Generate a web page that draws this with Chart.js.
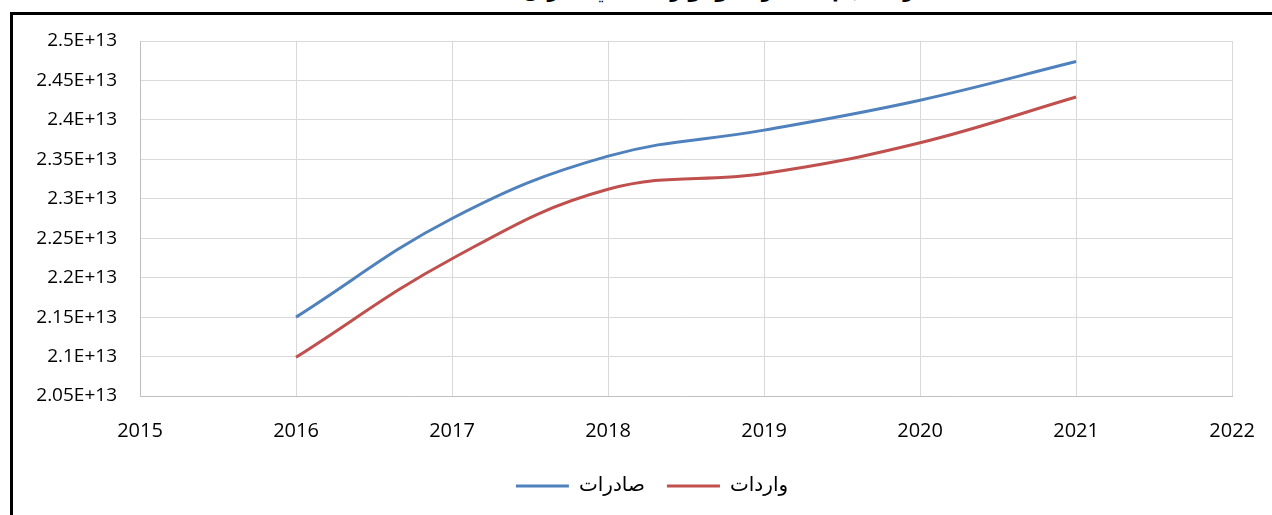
<!DOCTYPE html>
<html>
<head>
<meta charset="utf-8">
<script src="https://cdn.jsdelivr.net/npm/chart.js@4"></script>
<style>
  html, body { margin: 0; padding: 0; background: #fff; overflow: hidden; }
  #frame { position: absolute; left: 10px; top: 12px; width: 1400px; height: 600px; border: 3px solid #000; }
  #title { position: absolute; left: 0; width: 1272px; top: -22px; text-align: center;
           font: bold 20px "DejaVu Sans"; direction: rtl; color: #000; }
  #wrap { position: absolute; left: 0; top: 0; width: 1278px; height: 515px; }
</style>
</head>
<body>
<div id="frame"></div>
<div id="title">مقارنة حجم الصادرات والواردات في العراق للمدة 2016 - 2021</div>
<div id="wrap"><canvas id="grafica"></canvas></div>
<script>
// valores
var years = [2016, 2017, 2018, 2019, 2020, 2021];
var exportsVals = [2.150e13, 2.275e13, 2.354e13, 2.387e13, 2.425e13, 2.474e13];
var importsVals = [2.099e13, 2.224e13, 2.312e13, 2.332e13, 2.371e13, 2.429e13];
var yTicks = { min: 2.05e13, max: 2.5e13, step: 0.05e13 };
var xTicks = { min: 2015, max: 2022, step: 1 };

function pts(vals) {
    return years.map(function (y, i) { return { x: y, y: vals[i] }; });
}

var data = {
    datasets: [
        {
            label: 'صادرات',
            data: pts(exportsVals),
            borderColor: '#4F81BD',
            backgroundColor: '#4F81BD',
            borderWidth: 3,
            pointRadius: 0,
            tension: 0.4,
        },
        {
            label: 'واردات',
            data: pts(importsVals),
            borderColor: '#C0504D',
            backgroundColor: '#C0504D',
            borderWidth: 3,
            pointRadius: 0,
            tension: 0.4,
        },
    ],
};

var config = {
    type: 'line',
    data: data,
    options: {
        responsive: false,
        animation: false,
        layout: { padding: { top: 41, right: 0, left: 26, bottom: 9 } },
        plugins: {
            legend: {
                position: 'bottom',
                labels: {
                    usePointStyle: true,
                    pointStyle: 'line',
                    pointStyleWidth: 53,
                    boxWidth: 53,
                    padding: 22,
                    color: '#000',
                    font: { family: 'DejaVu Sans', size: 20 },
                },
            },
            tooltip: { enabled: false },
        },
        scales: {
            x: {
                type: 'linear',
                min: xTicks.min,
                max: xTicks.max,
                afterFit: function (scale) { scale.height = 58; },
                grid: { color: '#d9d9d9', drawTicks: false },
                border: { color: '#bfbfbf' },
                ticks: {
                    stepSize: xTicks.step,
                    padding: 23,
                    color: '#000',
                    font: { family: 'Open Sans', size: 20 },
                    callback: function (value) { return String(value); },
                },
            },
            y: {
                min: yTicks.min,
                max: yTicks.max,
                afterFit: function (scale) { scale.width = 114; },
                grid: { color: '#d9d9d9', drawTicks: false },
                border: { color: '#bfbfbf' },
                ticks: {
                    stepSize: yTicks.step,
                    padding: 23,
                    color: '#000',
                    font: { family: 'Open Sans', size: 19 },
                    callback: function (value) {
                        return String(Math.round(value / 1e13 * 100) / 100) + 'E+13';
                    },
                },
            },
        },
    },
};

var canvas = document.getElementById('grafica');
canvas.width = 1278;
canvas.height = 515;
var myChart = new Chart(canvas, config);
</script>
</body>
</html>
